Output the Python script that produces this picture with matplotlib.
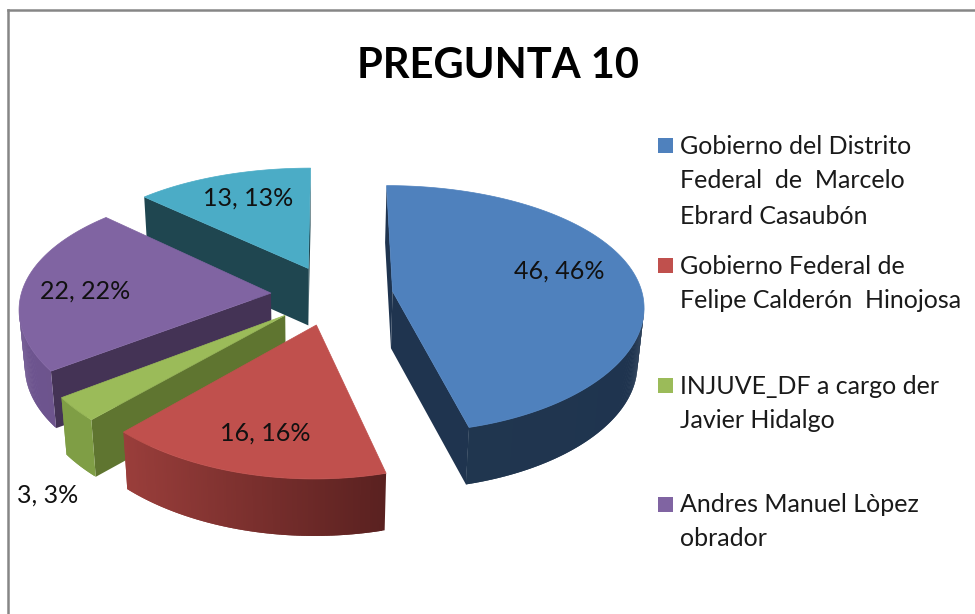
import matplotlib
matplotlib.use("Agg")
import matplotlib.pyplot as plt
from matplotlib.patches import Polygon, Rectangle
from matplotlib.colors import to_rgb
import numpy as np

plt.rcParams['font.family'] = ['Lato', 'DejaVu Sans']

# data
values = [46, 16, 3, 22, 13]
title = "PREGUNTA 10"
legend_lines = [
    ["Gobierno del Distrito", "Federal  de  Marcelo", "Ebrard Casaubón"],
    ["Gobierno Federal de", "Felipe Calderón  Hinojosa"],
    ["INJUVE_DF a cargo der", "Javier Hidalgo"],
    ["Andres Manuel Lòpez", "obrador"],
]

# styles
top_colors = ["#4F81BD", "#C0504D", "#9BBB59", "#8064A2", "#4BACC6"]
cut_colors = ["#1F344F", "#5A2220", "#5F7530", "#443355", "#1F4650"]
arc_left = ["#21374F", "#9A3E3B", "#7F9E45", "#6E5590", "#2B6B7C"]
arc_right = ["#1F344F", "#5A2120", "#7F9E45", "#6A5188", "#2B6B7C"]
label_pos = [(559, 271), (265, 433), (48, 495), (85, 291), (248, 198)]
legend_y = [[146, 180, 216], [266, 300], [386, 420], [505, 538]]
draw_order = [4, 3, 2, 1, 0]

# projection of the pie plane onto the picture
CX, CY = 332, 295
A, B = 250, 122
K_X, K_Y = 0.11, 0.145
EXPLODE = 0.245
DEPTH = 57
SHRINK = 0.98
SHRINK_X = 312


def Project(u, v):
    return CX + A * u / (1 + K_X * v), CY - B * v / (1 + K_Y * v)


def Lower(x, y):
    return SHRINK_X + (x - SHRINK_X) * SHRINK, y + DEPTH


def Mix(c1, c2, t):
    a, b = np.array(to_rgb(c1)), np.array(to_rgb(c2))
    return tuple(a + (b - a) * t)


def Quad(ax, p1, p2, color):
    x1, y1 = p1
    x2, y2 = p2
    pts = [p1, p2, Lower(x2, y2), Lower(x1, y1)]
    ax.add_patch(Polygon(pts, closed=True, fc=color, ec="none"))


def DrawSlice(ax, i, start, end):
    mid = np.radians((start + end) / 2)
    cu, cv = EXPLODE * np.sin(mid), EXPLODE * np.cos(mid)
    angles = np.radians(np.linspace(start, end, max(int((end - start) * 2), 8)))
    apex = Project(cu, cv)
    arc = [Project(cu + np.sin(t), cv + np.cos(t)) for t in angles]

    # walls, only the ones that face the viewer
    if arc[0][0] < apex[0]:
        Quad(ax, apex, arc[0], cut_colors[i])
    if apex[0] < arc[-1][0]:
        Quad(ax, arc[-1], apex, cut_colors[i])
    xs = [p[0] for p in arc]
    x_min, x_max = min(xs), max(xs)
    for n in range(len(arc) - 1):
        p1, p2 = arc[n], arc[n + 1]
        if p2[0] < p1[0]:
            t = (p1[0] - x_min) / max(x_max - x_min, 1)
            # run on to the next point so no seam shows between the strips
            if n + 2 < len(arc) and arc[n + 2][0] < p2[0]:
                p2 = arc[n + 2]
            Quad(ax, p1, p2, Mix(arc_left[i], arc_right[i], t))

    ax.add_patch(Polygon([apex] + arc, closed=True, fc=top_colors[i],
                         ec=top_colors[i], lw=0.5))


fig = plt.figure(figsize=(9.75, 6.14), dpi=100)
ax = fig.add_axes([0, 0, 1, 1])
ax.set_xlim(0, 975)
ax.set_ylim(614, 0)
ax.axis("off")

# chart frame, cut by the edge of the picture
ax.plot([8, 8], [614, 10], color="#868686", lw=1.8)
ax.plot([8, 975], [10, 10], color="#868686", lw=1.8)

edges = np.cumsum([0] + values) / sum(values) * 360
for i in draw_order:
    DrawSlice(ax, i, edges[i], edges[i + 1])

for v, (x, y) in zip(values, label_pos):
    ax.text(x, y, f"{v}, {v}%", fontsize=18, color="#111111", ha="center", va="center")

ax.text(498, 66, title, fontsize=30, fontweight="bold", color="black", ha="center", va="center")

for i, (lines, ys) in enumerate(zip(legend_lines, legend_y)):
    ax.add_patch(Rectangle((658, ys[0] - 8), 15, 15, fc=top_colors[i], ec="none"))
    for line, y in zip(lines, ys):
        ax.text(680, y, line, fontsize=18, color="#1a1a1a", ha="left", va="center")

fig.savefig("out.png", dpi=100)
